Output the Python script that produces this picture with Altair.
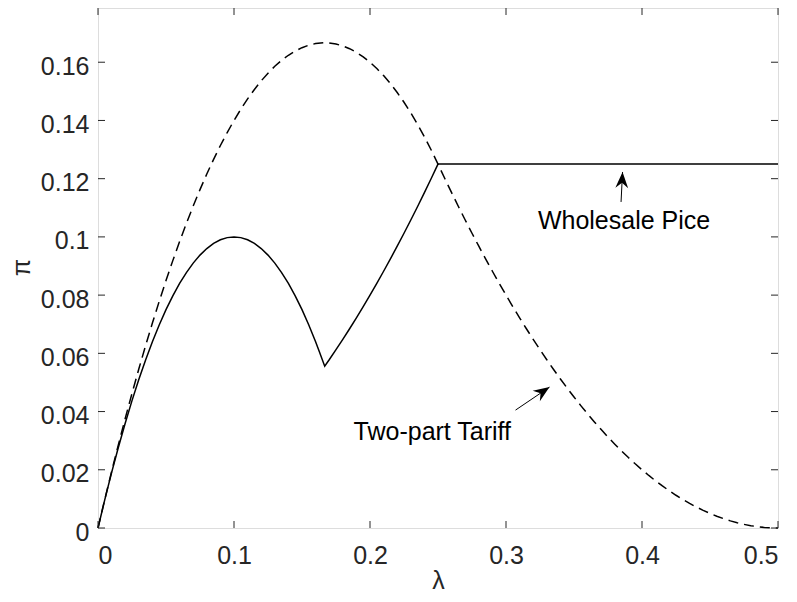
import math
import altair as alt
import pandas as pd

# ---------------- data ----------------
lam_solid = [0, 0.005, 0.01, 0.015, 0.02, 0.025, 0.03, 0.035, 0.04, 0.045, 0.05,
             0.055, 0.06, 0.065, 0.07, 0.075, 0.08, 0.085, 0.09, 0.095, 0.10,
             0.105, 0.11, 0.115, 0.12, 0.125, 0.13, 0.135, 0.14, 0.145, 0.15,
             0.155, 0.16, 0.1625, 0.1667,
             0.17, 0.175, 0.18, 0.185, 0.19, 0.195, 0.20, 0.205, 0.21, 0.215,
             0.22, 0.225, 0.23, 0.235, 0.24, 0.245, 0.25, 0.50]
pi_solid = [0, 0.00975, 0.019, 0.02775, 0.036, 0.04375, 0.051, 0.05775, 0.064, 0.06975, 0.075,
            0.07975, 0.084, 0.08775, 0.091, 0.09375, 0.096, 0.09775, 0.099, 0.09975, 0.100,
            0.09975, 0.099, 0.09775, 0.096, 0.09375, 0.091, 0.08775, 0.084, 0.07975, 0.075,
            0.06975, 0.064, 0.0609, 0.0556,
            0.0578, 0.0613, 0.0648, 0.06845, 0.0722, 0.07605, 0.080, 0.08405, 0.0882, 0.09245,
            0.0968, 0.10125, 0.1058, 0.11045, 0.1152, 0.12005, 0.125, 0.125]

lam_dashed = [0, 0.005, 0.01, 0.015, 0.02, 0.025, 0.03, 0.035, 0.04, 0.045, 0.05,
              0.055, 0.06, 0.065, 0.07, 0.075, 0.08, 0.085, 0.09, 0.095, 0.10,
              0.105, 0.11, 0.115, 0.12, 0.125, 0.13, 0.135, 0.14, 0.145, 0.15,
              0.155, 0.16, 0.1667, 0.17, 0.175, 0.18, 0.185, 0.19, 0.195, 0.20,
              0.205, 0.21, 0.215, 0.22, 0.225, 0.23, 0.235, 0.24, 0.245, 0.25,
              0.255, 0.26, 0.265, 0.27, 0.275, 0.28, 0.285, 0.29, 0.295, 0.30,
              0.305, 0.31, 0.315, 0.32, 0.325, 0.33, 0.335, 0.34, 0.345, 0.35,
              0.355, 0.36, 0.365, 0.37, 0.375, 0.38, 0.385, 0.39, 0.395, 0.40,
              0.405, 0.41, 0.415, 0.42, 0.425, 0.43, 0.435, 0.44, 0.445, 0.45,
              0.455, 0.46, 0.465, 0.47, 0.475, 0.48, 0.485, 0.49, 0.495, 0.50]
pi_dashed = [0, 0.00985, 0.0194, 0.02865, 0.0376, 0.04625, 0.0546, 0.06265, 0.0704, 0.07785, 0.085,
             0.09185, 0.0984, 0.10465, 0.1106, 0.11625, 0.1216, 0.12665, 0.1314, 0.13585, 0.140,
             0.14385, 0.1474, 0.15065, 0.1536, 0.15625, 0.1586, 0.16065, 0.1624, 0.16385, 0.165,
             0.16585, 0.1664, 0.1667, 0.1666, 0.16625, 0.1656, 0.16465, 0.1634, 0.16185, 0.160,
             0.15785, 0.1554, 0.15265, 0.1496, 0.14625, 0.1426, 0.13865, 0.1344, 0.12985, 0.125,
             0.12005, 0.1152, 0.11045, 0.1058, 0.10125, 0.0968, 0.09245, 0.0882, 0.08405, 0.080,
             0.07605, 0.0722, 0.06845, 0.0648, 0.06125, 0.0578, 0.05445, 0.0512, 0.04805, 0.045,
             0.04205, 0.0392, 0.03645, 0.0338, 0.03125, 0.0288, 0.02645, 0.0242, 0.02205, 0.020,
             0.01805, 0.0162, 0.01445, 0.0128, 0.01125, 0.0098, 0.00845, 0.0072, 0.00605, 0.005,
             0.00405, 0.0032, 0.00245, 0.0018, 0.00125, 0.0008, 0.00045, 0.0002, 0.00005, 0]

x_ticks = [0, 0.1, 0.2, 0.3, 0.4, 0.5]
y_ticks = [0, 0.02, 0.04, 0.06, 0.08, 0.1, 0.12, 0.14, 0.16]

ann_text = ["Wholesale Pice", "Two-part Tariff"]
ann_lam = [0.3868, 0.2458]
ann_pi = [0.1027, 0.0302]

arrow_tail_lam = [0.3846, 0.3070]
arrow_tail_pi = [0.1120, 0.0405]
arrow_tip_lam = [0.3857, 0.3320]
arrow_tip_pi = [0.1223, 0.0484]

# ---------------- layout ----------------
W, H = 680, 520
XMAX = 0.5
YMAX = 0.17863
FONT = "Liberation Sans"
AX = "#262626"
TICK = 7

xpx = W / XMAX
ypx = H / YMAX
arrow_angle = []
for tl, tp, hl, hp in zip(arrow_tail_lam, arrow_tail_pi, arrow_tip_lam, arrow_tip_pi):
    dx = (hl - tl) * xpx
    dy = -(hp - tp) * ypx
    arrow_angle.append((math.degrees(math.atan2(dx, -dy)) + 360) % 360)

xscale = alt.Scale(domain=[0, XMAX], nice=False, zero=False)
yscale = alt.Scale(domain=[0, YMAX], nice=False, zero=False)

xaxis = alt.Axis(values=x_ticks, format="~g", title="λ", grid=False, domain=False,
                 ticks=False, tickSize=0, labelPadding=15, labelFontSize=25,
                 labelFont=FONT, labelColor=AX, titleFont=FONT, titleFontSize=25,
                 titleFontWeight="normal", titleColor=AX, titleX=W / 2, titleY=60,
                 titleBaseline="alphabetic", titleAlign="center")
yaxis = alt.Axis(values=y_ticks, format="~g", title="π", grid=False, domain=False,
                 ticks=False, tickSize=0, labelPadding=9, labelOffset=4, labelFontSize=25,
                 labelFont=FONT, labelColor=AX, titleFont=FONT, titleFontSize=25,
                 titleFontWeight="normal", titleColor=AX, titleAngle=270, titleX=-77,
                 titleY=259, titleBaseline="middle", titleAlign="center")


def X(field="lam"):
    return alt.X(f"{field}:Q", scale=xscale, axis=xaxis)


def Y(field="pi"):
    return alt.Y(f"{field}:Q", scale=yscale, axis=yaxis)


df_solid = pd.DataFrame({"lam": lam_solid, "pi": pi_solid})
df_dashed = pd.DataFrame({"lam": lam_dashed, "pi": pi_dashed})
df_xt = pd.DataFrame({"lam": x_ticks})
df_yt = pd.DataFrame({"pi": y_ticks})
df_ann = pd.DataFrame({"lam": ann_lam, "pi": ann_pi, "label": ann_text})
df_shaft = pd.DataFrame({
    "lam": arrow_tail_lam + arrow_tip_lam,
    "pi": arrow_tail_pi + arrow_tip_pi,
    "id": [0, 1, 0, 1],
    "ord": [0, 0, 1, 1],
})
df_head = pd.DataFrame({"lam": arrow_tip_lam, "pi": arrow_tip_pi, "ang": arrow_angle})

solid = alt.Chart(df_solid).mark_line(color="black", strokeWidth=1.5).encode(
    x=X(), y=Y(), order="lam:Q")
dashed = alt.Chart(df_dashed).mark_line(color="black", strokeWidth=1.5,
                                        strokeDash=[10, 6]).encode(
    x=X(), y=Y(), order="lam:Q")

tick_l = alt.Chart(df_yt).mark_rule(color=AX, strokeWidth=1).encode(
    y=Y(), x=alt.value(0), x2=alt.value(TICK))
tick_r = alt.Chart(df_yt).mark_rule(color=AX, strokeWidth=1).encode(
    y=Y(), x=alt.value(W - TICK), x2=alt.value(W))
tick_b = alt.Chart(df_xt).mark_rule(color=AX, strokeWidth=1).encode(
    x=X(), y=alt.value(H), y2=alt.value(H - TICK))
tick_t = alt.Chart(df_xt).mark_rule(color=AX, strokeWidth=1).encode(
    x=X(), y=alt.value(0), y2=alt.value(TICK))

shaft = alt.Chart(df_shaft).mark_line(color="black", strokeWidth=1).encode(
    x=X(), y=Y(), detail="id:N", order="ord:Q")
ARROW = "M0,0 L0.8,2 L0,1.35 L-0.8,2 Z"
head = alt.Chart(df_head).mark_point(shape=ARROW, size=256, filled=True,
                                     color="black", opacity=1, strokeWidth=0).encode(
    x=X(), y=Y(), angle=alt.Angle("ang:Q", scale=None))

text = alt.Chart(df_ann).mark_text(font=FONT, fontSize=25, color="black",
                                   align="center", baseline="alphabetic").encode(
    x=X(), y=Y(), text="label:N")

chart = alt.layer(dashed, solid, tick_l, tick_r, tick_b, tick_t, shaft, head, text).properties(
    width=W, height=H,
    autosize=alt.AutoSizeParams(type="none"),
    padding={"left": 90, "top": 0, "right": 11, "bottom": 66},
).configure_view(stroke="#555555", strokeWidth=1).configure(background="white")

chart.save("out.html", embed_options={"renderer": "svg", "actions": False})
